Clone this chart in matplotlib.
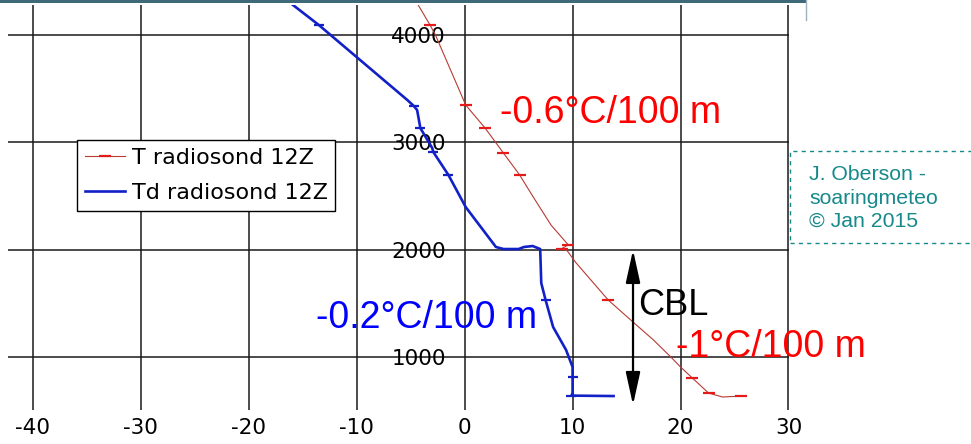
import matplotlib
matplotlib.use('Agg')

import matplotlib.pyplot as plt
from matplotlib.lines import Line2D
from matplotlib.patches import Rectangle

# radiosonde 12Z: height (m) and temperature (degC)
T_height = [4280, 4093, 4000, 3348, 3133, 2900, 2696, 2500, 2230, 2045, 2010,
            1990, 1880, 1531, 1317, 1158, 1000, 907, 804, 664, 627, 636]
T_temp = [-4.3, -3.2, -2.7, 0.1, 1.9, 3.6, 5.1, 6.3, 8.0, 9.6, 9.0,
          9.5, 10.3, 13.3, 15.7, 17.5, 19.1, 20.0, 21.1, 22.6, 23.9, 25.6]
T_marks = [1, 3, 4, 5, 6, 9, 10, 13, 18, 19, 21]

Td_height = [4280, 4093, 3786, 3394, 3338, 3301, 3133, 2947, 2910, 2696, 2397,
             2211, 2025, 2006, 2006, 2025, 2034, 2006, 1689, 1531, 1279, 1065,
             907, 814, 665, 640, 636]
Td_temp = [-15.9, -13.5, -9.9, -5.3, -4.7, -4.4, -4.1, -3.0, -2.9, -1.5, 0.1,
           1.5, 2.9, 3.6, 5.0, 5.5, 6.3, 7.0, 7.1, 7.5, 8.2, 9.4,
           10.0, 10.0, 10.0, 9.9, 13.8]
Td_marks = [1, 4, 6, 8, 9, 19, 23, 25]

x_ticks = [-40, -30, -20, -10, 0, 10, 20, 30]
y_ticks = [1000, 2000, 3000, 4000]

legend_labels = ['T radiosond 12Z', 'Td radiosond 12Z']
credit_lines = ['J. Oberson -', 'soaringmeteo', '\u00a9 Jan 2015']

plt.rcParams['axes.unicode_minus'] = False

RED_LINE = '#b83a32'
RED_MARK = '#e41b1b'
BLUE = '#1220c8'
TEAL = '#16898a'
ANNOT = 'Liberation Sans'

fig = plt.figure(figsize=(9.71, 4.44), dpi=100)
ax = fig.add_axes([8 / 971, 34 / 444, 781 / 971, 405 / 444])

ax.plot(T_temp, T_height, color=RED_LINE, lw=0.8, marker='_', ms=8, mew=1.6,
        mec=RED_MARK, markevery=T_marks, zorder=3)
ax.plot(Td_temp, Td_height, color=BLUE, lw=1.9, marker='_', ms=7, mew=1.6,
        mec=BLUE, markevery=Td_marks, zorder=3)

ax.set_xlim(-42.3, 30.05)
ax.set_ylim(506, 4280)
ax.set_xticks(x_ticks)
ax.set_yticks(y_ticks)
ax.grid(True, color='#1a1a1a', lw=1.1)
ax.set_axisbelow(True)
for s in ax.spines.values():
    s.set_visible(False)
# y labels sit just left of the 0 degC line
ax.spines['left'].set_position(('data', 0))
ax.tick_params(axis='both', length=0, labelsize=15.5, colors='black')
ax.tick_params(axis='y', pad=13.5)
ax.tick_params(axis='x', pad=6)

# annotations
ax.text(3.24, 3180, '-0.6\u00b0C/100 m', color='#ff0000', fontsize=27,
        family=ANNOT, va='baseline', ha='left', zorder=4)
ax.text(-13.8, 1270, '-0.2\u00b0C/100 m', color='#0000ff', fontsize=27,
        family=ANNOT, va='baseline', ha='left', zorder=4)
ax.text(19.55, 1000, '-1\u00b0C/100 m', color='#ff0000', fontsize=27,
        family=ANNOT, va='baseline', ha='left', zorder=4)
ax.text(16.1, 1391, 'CBL', color='black', fontsize=26,
        family=ANNOT, va='baseline', ha='left', zorder=4)
ax.annotate('', xy=(15.6, 553), xytext=(15.6, 1997),
            arrowprops=dict(arrowstyle='<|-|>,head_length=1.0,head_width=0.22',
                            mutation_scale=20, lw=1.6, color='black',
                            shrinkA=0, shrinkB=0), zorder=4)

handles = [Line2D([], [], color=RED_LINE, lw=0.8, marker='_', ms=8, mew=1.6,
                  mec=RED_MARK),
           Line2D([], [], color=BLUE, lw=1.9)]
leg = ax.legend(handles, legend_labels, loc='upper left',
                bbox_to_anchor=(0.0885, 0.667), fontsize=16, frameon=True,
                fancybox=False, framealpha=1, edgecolor='black',
                handlelength=1.8, handletextpad=0.3, labelspacing=0.68,
                borderpad=0.35, borderaxespad=0)
leg.get_frame().set_linewidth(1.0)
leg.set_zorder(5)

# credit box on the right
fig.patches.append(Rectangle((790 / 971, 1 - 243 / 444), 0.3, 92 / 444,
                             transform=fig.transFigure, fill=False,
                             edgecolor=TEAL, lw=1.0, ls=(0, (3, 3)),
                             clip_on=False))
for i, line in enumerate(credit_lines):
    fig.text(809 / 971, 1 - (180 + 23.5 * i) / 444, line, color=TEAL,
             fontsize=15.3, family=ANNOT, va='baseline', ha='left')

# thin banner edge along the top of the slide
fig.patches.append(Rectangle((0, 1 - 3 / 444), 806 / 971, 3 / 444,
                             transform=fig.transFigure, color='#3f6878', lw=0))
fig.lines.append(Line2D([806 / 971, 806 / 971], [1, 1 - 20 / 444],
                        transform=fig.transFigure, color='#9fb2c0', lw=1))

plt.savefig('out.png', dpi=100)
plt.close()
